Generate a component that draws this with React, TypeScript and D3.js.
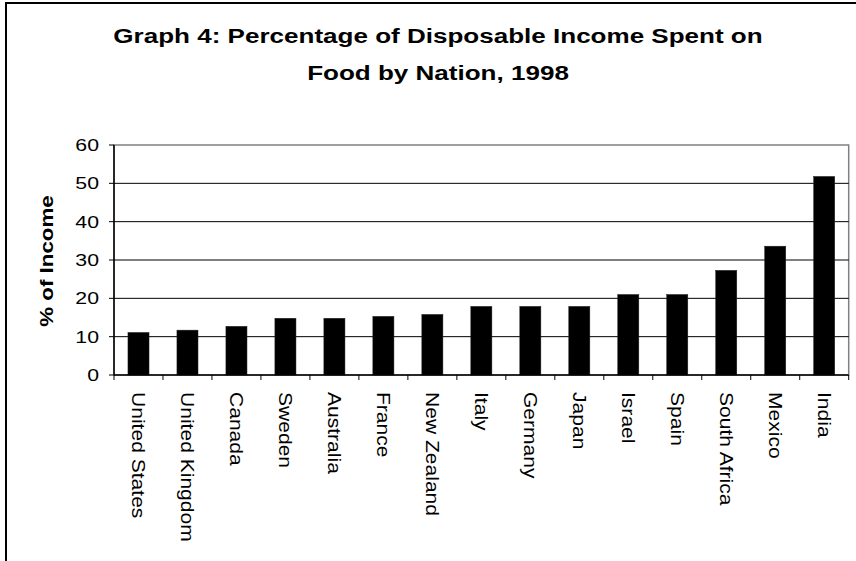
import React from 'react';
import * as d3 from 'd3';

const nations = [
  'United States', 'United Kingdom', 'Canada', 'Sweden', 'Australia',
  'France', 'New Zealand', 'Italy', 'Germany', 'Japan',
  'Israel', 'Spain', 'South Africa', 'Mexico', 'India',
];
const foodShare = [11.1, 11.7, 12.7, 14.8, 14.8, 15.3, 15.8, 17.9, 17.9, 17.9, 21.0, 21.0, 27.3, 33.6, 51.8];
const yTicks = [0, 10, 20, 30, 40, 50, 60];
const titleLines = ['Graph 4: Percentage of Disposable Income Spent on', 'Food by Nation, 1998'];
const yTitle = '% of Income';

const W = 856;
const H = 561;
const plot = { left: 114, right: 848.7, top: 145, bottom: 375 };
const font = 'Arial, "Liberation Sans", Helvetica, sans-serif';

const App: React.FC = () => {
  const x = d3.scaleBand<string>()
    .domain(nations)
    .range([plot.left, plot.right])
    .paddingInner(0.57)
    .paddingOuter(0.285);

  const y = d3.scaleLinear()
    .domain([0, 60])
    .range([plot.bottom, plot.top]);

  const step = x.step();
  // category boundaries for the x ticks
  const bounds = d3.range(nations.length + 1).map(i => plot.left + i * step);

  return (
    <svg width={W} height={H} style={{ position: 'absolute', left: 0, top: 0 }}>
      <rect x={0} y={0} width={W} height={H} fill="#fff" />
      <rect x={6} y={3} width={W + 20} height={H + 20} fill="none" stroke="#000" strokeWidth={2} />

      {titleLines.map((t, i) => (
        <text key={t}
          transform={`translate(438,${43 + i * 37}) scale(1.24,1)`}
          textAnchor="middle" fontFamily={font} fontWeight="bold" fontSize={21} fill="#000">
          {t}
        </text>
      ))}

      {/* plot area frame */}
      <rect x={plot.left} y={plot.top} width={plot.right - plot.left} height={plot.bottom - plot.top}
        fill="none" stroke="#808080" strokeWidth={1.5} />

      {yTicks.filter(v => v > 0 && v < 60).map(v => (
        <line key={v} x1={plot.left} x2={plot.right} y1={y(v)} y2={y(v)} stroke="#000" strokeWidth={1} />
      ))}

      {nations.map((n, i) => (
        <rect key={n} x={x(n)!} y={y(foodShare[i])} width={x.bandwidth()}
          height={y(0) - y(foodShare[i])} fill="#000" stroke="#222" strokeWidth={0.5} />
      ))}

      {/* y axis */}
      <line x1={plot.left} x2={plot.left} y1={plot.top} y2={plot.bottom} stroke="#000" strokeWidth={1.5} />
      {yTicks.map(v => (
        <g key={v}>
          <line x1={plot.left - 5} x2={plot.left} y1={y(v)} y2={y(v)} stroke="#000" strokeWidth={1} />
          <text transform={`translate(99,${y(v)}) scale(1.25,1)`} dy="0.36em" textAnchor="end"
            fontFamily={font} fontSize={17} fill="#000">{v}</text>
        </g>
      ))}

      {/* x axis */}
      <line x1={plot.left} x2={plot.right} y1={plot.bottom} y2={plot.bottom} stroke="#000" strokeWidth={1.5} />
      {bounds.map((b, i) => (
        <line key={i} x1={b} x2={b} y1={plot.bottom} y2={plot.bottom + 5} stroke="#000" strokeWidth={1} />
      ))}
      {nations.map(n => (
        <text key={n}
          transform={`translate(${x(n)! + x.bandwidth() / 2},392) rotate(90) scale(1.17,1)`}
          dy="0.36em" textAnchor="start" fontFamily={font} fontSize={18} fill="#000">
          {n}
        </text>
      ))}

      <text transform={`translate(47,261) rotate(-90) scale(1.24,1)`} dy="0.36em" textAnchor="middle"
        fontFamily={font} fontWeight="bold" fontSize={18} fill="#000">{yTitle}</text>
    </svg>
  );
};

export default App;
